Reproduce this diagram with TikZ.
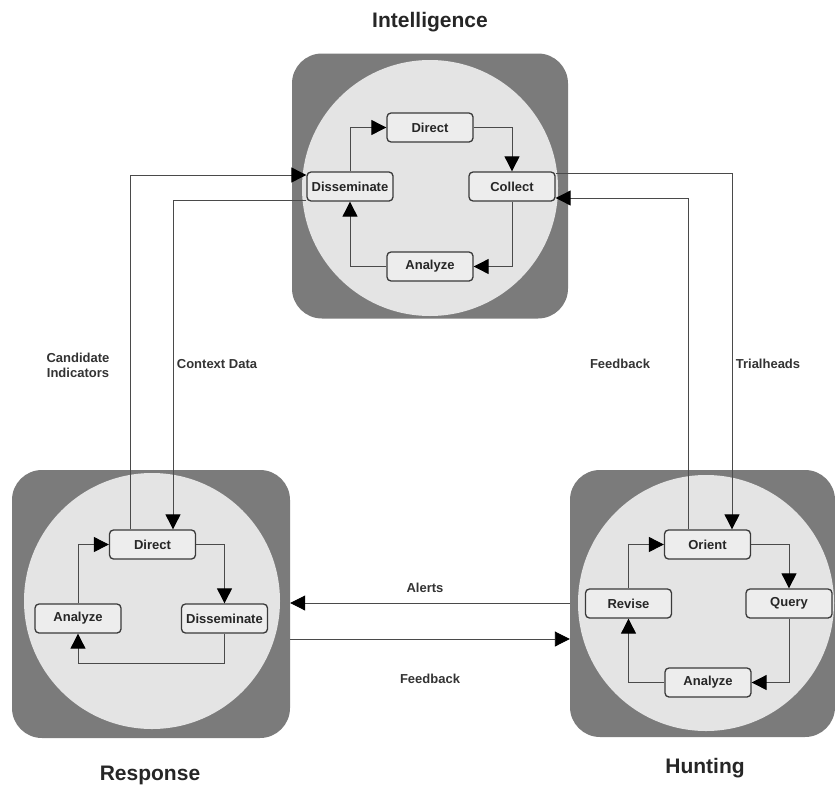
\documentclass[tikz,border=0pt]{standalone}
\usepackage{fontspec}
\setmainfont{Liberation Sans}
\usetikzlibrary{arrows.meta}
\definecolor{boxgray}{HTML}{7B7B7B}
\definecolor{circgray}{HTML}{E4E4E4}
\definecolor{nodegray}{HTML}{EDEDED}
\definecolor{linegray}{HTML}{4A4A4A}
\definecolor{borderg}{HTML}{3A3A3A}
\tikzset{
  bigbox/.style={draw=none, fill=boxgray, rounded corners=30pt, inner sep=0pt},
  bigcirc/.style={circle, fill=circgray, draw=none, inner sep=0pt, minimum size=256pt},
  stepbox/.style={draw=borderg, line width=1.3pt, fill=nodegray, rounded corners=4pt,
    minimum width=86pt, minimum height=29pt, inner sep=0pt, font=\bfseries\fontsize{13}{15}\selectfont, text=black!85},
  arr/.style={draw=linegray, line width=0.9pt, -{Triangle[length=15pt,width=15pt,color=black]}},
  lbl/.style={font=\bfseries\fontsize{13}{15}\selectfont, text=black!80, align=center, inner sep=0pt},
  title/.style={font=\bfseries\fontsize{21}{24}\selectfont, text=black!85, inner sep=0pt}
}
\begin{document}
\begin{tikzpicture}[x=1pt,y=-1pt]
\useasboundingbox (0,0) rectangle (835,787);
% boxes
\node[bigbox, minimum width=276pt, minimum height=265pt] (Ibox) at (430,186) {};
\node[bigbox, minimum width=278pt, minimum height=268pt] (Rbox) at (151,604) {};
\node[bigbox, minimum width=265pt, minimum height=267pt] (Hbox) at (702.5,603.5) {};
\node[bigcirc] (Icirc) at (430,188) {};
\node[bigcirc] (Rcirc) at (152,601) {};
\node[bigcirc] (Hcirc) at (706,603) {};
% titles
\node[title] (Ititle) at (430,22) {Intelligence};
\node[title] (Rtitle) at (150,775) {Response};
\node[title] (Htitle) at (705,768) {Hunting};
% Intelligence nodes
\node[stepbox] (Idir) at (430,127.5) {Direct};
\node[stepbox] (Icol) at (512,186.5) {Collect};
\node[stepbox] (Idis) at (350,186.5) {Disseminate};
\node[stepbox] (Iana) at (430,266.5) {Analyze};
% Response nodes
\node[stepbox] (Rdir) at (152.5,544.5) {Direct};
\node[stepbox] (Rdis) at (224.5,618.5) {Disseminate};
\node[stepbox] (Rana) at (78,618.5) {Analyze};
% Hunting nodes
\node[stepbox] (Hori) at (707.5,544.5) {Orient};
\node[stepbox] (Hrev) at (628.5,603.5) {Revise};
\node[stepbox] (Hqry) at (789,603.5) {Query};
\node[stepbox] (Hana) at (708,682.5) {Analyze};
% Intelligence cycle
\draw[arr] (Idis.north) |- (Idir.west);
\draw[arr] (Idir.east) -| (Icol.north);
\draw[arr] (Icol.south) |- (Iana.east);
\draw[arr] (Iana.west) -| (Idis.south);
% Response cycle
\coordinate (RlowY) at (0,663);
\draw[arr] (Rana.north) |- (Rdir.west);
\draw[arr] (Rdir.east) -| (Rdis.north);
\draw[arr] (Rdis.south) -- (Rdis.south |- RlowY) -| (Rana.south);
% Hunting cycle
\draw[arr] (Hrev.north) |- (Hori.west);
\draw[arr] (Hori.east) -| (Hqry.north);
\draw[arr] (Hqry.south) |- (Hana.east);
\draw[arr] (Hana.west) -| (Hrev.south);
% cross connectors
\coordinate (ciTurn) at (130,175);
\draw[arr] (Rdir.north -| ciTurn) -- (ciTurn) -- (ciTurn -| Idis.west);
\coordinate (cdTurn) at (173,200);
\draw[arr] (Idis.west |- cdTurn) -- (cdTurn) -- (cdTurn |- Rdir.north);
\coordinate (fbTurn) at (688,198);
\draw[arr] (Hori.north -| fbTurn) -- (fbTurn) -- (fbTurn -| Icol.east);
\coordinate (thTurn) at (732,173);
\draw[arr] (Icol.east |- thTurn) -- (thTurn) -- (thTurn |- Hori.north);
\coordinate (alY) at (0,603);
\draw[arr] (Hbox.west |- alY) -- (Rbox.east |- alY);
\coordinate (fbY) at (0,639);
\draw[arr] (Rbox.east |- fbY) -- (Hbox.west |- fbY);
% labels
\node[lbl] (lci) at (78,365) {Candidate\\Indicators};
\node[lbl] (lcd) at (217,364) {Context Data};
\node[lbl] (lfb) at (620,364) {Feedback};
\node[lbl] (lth) at (768,364) {Trialheads};
\node[lbl] (lal) at (425,588) {Alerts};
\node[lbl] (lfb2) at (430,679) {Feedback};
\end{tikzpicture}
\end{document}
